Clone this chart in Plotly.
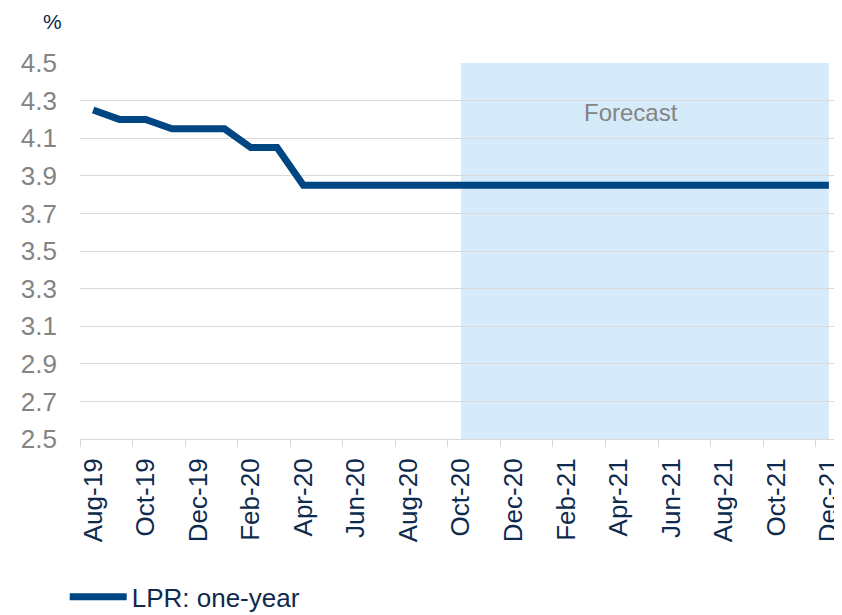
import plotly.graph_objects as go

months = ["Aug-19", "Sep-19", "Oct-19", "Nov-19", "Dec-19", "Jan-20", "Feb-20", "Mar-20",
          "Apr-20", "May-20", "Jun-20", "Jul-20", "Aug-20", "Sep-20", "Oct-20", "Nov-20",
          "Dec-20", "Jan-21", "Feb-21", "Mar-21", "Apr-21", "May-21", "Jun-21", "Jul-21",
          "Aug-21", "Sep-21", "Oct-21", "Nov-21", "Dec-21"]
lpr_one_year = [4.25, 4.20, 4.20, 4.15, 4.15, 4.15, 4.05, 4.05,
                3.85, 3.85, 3.85, 3.85, 3.85, 3.85, 3.85, 3.85,
                3.85, 3.85, 3.85, 3.85, 3.85, 3.85, 3.85, 3.85,
                3.85, 3.85, 3.85, 3.85, 3.85]
y_ticks = [2.5, 2.7, 2.9, 3.1, 3.3, 3.5, 3.7, 3.9, 4.1, 4.3, 4.5]
forecast_start = "Oct-20"
forecast_end = "Dec-21"
series_name = "LPR: one-year"

FONT = "Liberation Sans, Arial, sans-serif"
NAVY = "#0E2A4D"
GREY = "#848484"

fig = go.Figure()
fig.add_trace(go.Scatter(
    x=months, y=lpr_one_year, mode="lines", name=series_name,
    line=dict(color="#004683", width=7),
))

fig.add_shape(type="rect", xref="x", yref="y",
              x0=months.index(forecast_start), x1=months.index(forecast_end),
              y0=y_ticks[0], y1=y_ticks[-1],
              fillcolor="#D5EBFA", line=dict(width=0), layer="below")

fig.add_annotation(text="Forecast", xref="x", yref="y", x=20.47, y=4.235,
                   showarrow=False, font=dict(family=FONT, size=24, color=GREY))
fig.add_annotation(text="%", xref="paper", yref="paper", x=-0.036, y=1.146,
                   xanchor="center", yanchor="top",
                   showarrow=False, font=dict(family=FONT, size=21, color=NAVY))

fig.update_layout(
    width=834, height=607,
    margin=dict(l=72, r=0, t=55, b=176, autoexpand=False),
    plot_bgcolor="white", paper_bgcolor="white",
    font=dict(family=FONT, size=26, color=NAVY),
    showlegend=True,
    legend=dict(orientation="h", xref="container", yref="paper",
                x=0.068, y=-0.42, xanchor="left", yanchor="middle",
                font=dict(family=FONT, size=26, color=NAVY),
                itemwidth=57, bgcolor="rgba(0,0,0,0)"),
    xaxis=dict(
        type="category", range=[-0.5, len(months) - 0.5], automargin=False,
        tickmode="linear", tick0=0, dtick=2, tickson="boundaries",
        ticks="outside", ticklen=7, tickcolor="#D9D9D9",
        showline=True, linecolor="#D9D9D9", linewidth=1,
        showgrid=False, tickangle=-90, ticklabelstandoff=8,
        tickfont=dict(family=FONT, size=26, color=NAVY),
    ),
    yaxis=dict(
        range=[y_ticks[0], y_ticks[-1]], tickvals=y_ticks, tickformat=".1f",
        automargin=False,
        showgrid=True, gridcolor="#D9D9D9", gridwidth=1,
        zeroline=False, showline=False, ticks="", ticklabelstandoff=22,
        tickfont=dict(family=FONT, size=26, color=GREY),
    ),
)

fig.write_html("out.html")
